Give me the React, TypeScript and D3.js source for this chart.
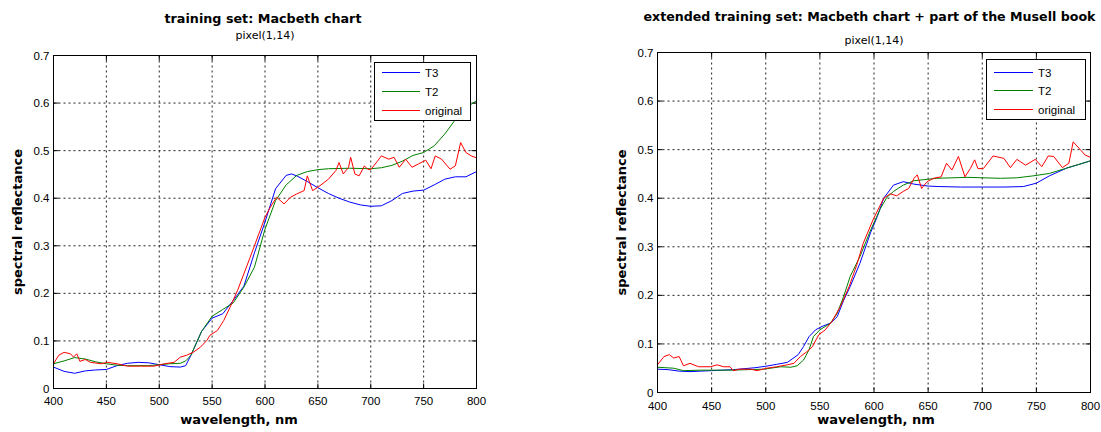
import React from "react";
import * as d3 from "d3";

// ---------- data ----------
const xTicks = [400, 450, 500, 550, 600, 650, 700, 750, 800];
const yTicks = [0, 0.1, 0.2, 0.3, 0.4, 0.5, 0.6, 0.7];
const yTickLabels = ["0", "0.1", "0.2", "0.3", "0.4", "0.5", "0.6", "0.7"];
const legendLabels = ["T3", "T2", "original"];
const seriesColors = ["#0000ff", "#008000", "#ff0000"];

// left panel: training set
const leftT3Wl = [400, 410, 420, 430, 440, 450, 460, 470, 480, 490, 500, 510, 520, 525, 530, 540, 550, 560, 570, 580, 590, 600, 610, 620, 625, 630, 640, 650, 660, 670, 680, 690, 700, 710, 720, 730, 740, 750, 760, 770, 780, 790, 800];
const leftT3Val = [0.045, 0.036, 0.032, 0.037, 0.039, 0.040, 0.048, 0.053, 0.055, 0.054, 0.050, 0.046, 0.045, 0.048, 0.07, 0.12, 0.148, 0.157, 0.185, 0.215, 0.285, 0.35, 0.42, 0.448, 0.451, 0.447, 0.435, 0.422, 0.41, 0.40, 0.392, 0.386, 0.383, 0.384, 0.395, 0.41, 0.415, 0.417, 0.428, 0.44, 0.445, 0.445, 0.456];

const leftT2Wl = [400, 410, 420, 430, 440, 450, 460, 470, 480, 490, 500, 510, 520, 525, 530, 540, 550, 560, 570, 580, 590, 600, 610, 620, 630, 640, 650, 660, 680, 700, 710, 720, 730, 740, 750, 760, 770, 780, 790, 800];
const leftT2Val = [0.052, 0.058, 0.065, 0.062, 0.056, 0.052, 0.049, 0.048, 0.048, 0.048, 0.050, 0.052, 0.053, 0.058, 0.07, 0.12, 0.152, 0.166, 0.18, 0.213, 0.255, 0.335, 0.395, 0.428, 0.448, 0.456, 0.46, 0.462, 0.463, 0.462, 0.464, 0.469, 0.478, 0.49, 0.496, 0.51, 0.535, 0.565, 0.59, 0.605];

const leftOrigWl = [400, 405, 410, 416, 419, 422, 425, 430, 435, 445, 451, 460, 470, 482, 495, 505, 514, 520, 526, 532, 539, 545, 548, 555, 561, 567, 574, 580, 586, 596, 600, 605, 611, 618, 624, 630, 637, 640, 645, 650, 660, 667, 670, 674, 679, 681, 685, 689, 694, 697, 700, 706, 710, 717, 722, 727, 733, 739, 745, 752, 757, 761, 767, 775, 780, 785, 790, 795, 800];
const leftOrigVal = [0.052, 0.07, 0.076, 0.073, 0.066, 0.073, 0.057, 0.061, 0.055, 0.052, 0.055, 0.052, 0.047, 0.047, 0.047, 0.052, 0.055, 0.066, 0.07, 0.076, 0.087, 0.101, 0.112, 0.122, 0.143, 0.171, 0.206, 0.241, 0.276, 0.336, 0.36, 0.381, 0.402, 0.388, 0.402, 0.409, 0.416, 0.447, 0.416, 0.423, 0.44, 0.458, 0.475, 0.451, 0.465, 0.486, 0.451, 0.447, 0.468, 0.461, 0.46, 0.477, 0.489, 0.482, 0.486, 0.465, 0.482, 0.465, 0.472, 0.48, 0.462, 0.489, 0.482, 0.461, 0.468, 0.517, 0.496, 0.489, 0.485];

// right panel: extended training set
const rightT3Wl = [400, 410, 420, 430, 440, 450, 460, 470, 480, 490, 500, 510, 520, 530, 535, 540, 546, 552, 560, 566, 572, 578, 587, 597, 603, 609, 618, 627, 637, 650, 660, 680, 700, 720, 738, 750, 762, 778, 790, 800];
const rightT3Val = [0.048, 0.047, 0.044, 0.043, 0.044, 0.045, 0.046, 0.047, 0.049, 0.051, 0.054, 0.058, 0.062, 0.078, 0.095, 0.115, 0.129, 0.136, 0.143, 0.156, 0.19, 0.218, 0.266, 0.33, 0.362, 0.40, 0.427, 0.434, 0.429, 0.425, 0.424, 0.423, 0.423, 0.423, 0.424, 0.431, 0.446, 0.462, 0.47, 0.477];

const rightT2Wl = [400, 415, 424, 440, 467, 498, 514, 523, 529, 535, 540, 544, 550, 560, 566, 572, 578, 587, 597, 606, 612, 618, 627, 637, 658, 686, 717, 732, 747, 762, 778, 800];
const rightT2Val = [0.052, 0.050, 0.045, 0.046, 0.046, 0.048, 0.053, 0.052, 0.055, 0.067, 0.088, 0.115, 0.129, 0.143, 0.163, 0.198, 0.239, 0.280, 0.335, 0.379, 0.402, 0.414, 0.427, 0.436, 0.441, 0.443, 0.441, 0.442, 0.446, 0.451, 0.462, 0.477];

const rightOrigWl = [400, 406, 411, 415, 420, 424, 430, 438, 449, 455, 461, 467, 470, 476, 486, 492, 501, 510, 520, 526, 532, 538, 543, 549, 555, 561, 569, 577, 584, 590, 599, 609, 615, 621, 627, 632, 637, 640, 644, 649, 655, 662, 667, 672, 678, 684, 689, 693, 696, 701, 710, 720, 726, 732, 740, 749, 755, 761, 766, 774, 780, 784, 791, 795, 800];
const rightOrigVal = [0.057, 0.074, 0.078, 0.071, 0.074, 0.055, 0.060, 0.053, 0.053, 0.057, 0.053, 0.053, 0.045, 0.048, 0.048, 0.045, 0.050, 0.053, 0.057, 0.060, 0.074, 0.084, 0.094, 0.119, 0.129, 0.146, 0.177, 0.218, 0.262, 0.307, 0.355, 0.400, 0.409, 0.405, 0.414, 0.42, 0.441, 0.448, 0.42, 0.434, 0.441, 0.444, 0.472, 0.458, 0.486, 0.444, 0.461, 0.479, 0.461, 0.461, 0.487, 0.482, 0.463, 0.480, 0.468, 0.480, 0.465, 0.487, 0.486, 0.463, 0.472, 0.516, 0.499, 0.489, 0.484];

const leftTitle = "training set: Macbeth chart";
const rightTitle = "extended training set: Macbeth chart + part of the Musell book";
const subTitle = "pixel(1,14)";
const xLabel = "wavelength, nm";
const yLabel = "spectral reflectance";

// ---------- drawing ----------
const FONT = "'Liberation Sans', Arial, Helvetica, sans-serif";
const WIDE = "'DejaVu Sans', Verdana, sans-serif";

type Series = { wl: number[]; val: number[] };

interface PanelProps {
  left: number; right: number; top: number; bottom: number;
  title: string; titleY: number; subY: number; titleX: number; titleLen: number; titleSize: number;
  series: Series[];
  legend: { x0: number; x1: number; y0: number; y1: number; rows: number[]; lx0: number; lx1: number; tx: number };
  xTickY: number; xLabelY: number; xLabelX: number; yLabelX: number;
}

function Panel(p: PanelProps) {
  const x = d3.scaleLinear().domain([400, 800]).range([p.left, p.right]);
  const y = d3.scaleLinear().domain([0, 0.7]).range([p.bottom, p.top]);
  const line = d3.line<[number, number]>().x((d) => x(d[0])).y((d) => y(d[1]));
  const cx = (p.left + p.right) / 2;
  const cy = (p.top + p.bottom) / 2;
  const tick = 5;
  return (
    <g>
      <rect x={p.left} y={p.top} width={p.right - p.left} height={p.bottom - p.top} fill="#fff" />
      {/* grid */}
      {xTicks.slice(1, -1).map((t) => (
        <line key={"gx" + t} x1={x(t)} x2={x(t)} y1={p.top} y2={p.bottom} stroke="#222" strokeWidth={1} strokeDasharray="2,3" />
      ))}
      {yTicks.slice(1, -1).map((t) => (
        <line key={"gy" + t} x1={p.left} x2={p.right} y1={y(t)} y2={y(t)} stroke="#222" strokeWidth={1} strokeDasharray="2,3" />
      ))}
      {/* ticks */}
      {xTicks.map((t) => (
        <g key={"tx" + t}>
          <line x1={x(t)} x2={x(t)} y1={p.bottom} y2={p.bottom - tick} stroke="#000" />
          <line x1={x(t)} x2={x(t)} y1={p.top} y2={p.top + tick} stroke="#000" />
        </g>
      ))}
      {yTicks.map((t) => (
        <g key={"ty" + t}>
          <line x1={p.left} x2={p.left + tick} y1={y(t)} y2={y(t)} stroke="#000" />
          <line x1={p.right} x2={p.right - tick} y1={y(t)} y2={y(t)} stroke="#000" />
        </g>
      ))}
      {/* data */}
      {p.series.map((s, i) => (
        <path
          key={"s" + i}
          d={line(s.wl.map((w, j) => [w, s.val[j]] as [number, number])) || ""}
          fill="none"
          stroke={seriesColors[i]}
          strokeWidth={1}
        />
      ))}
      {/* frame */}
      <rect x={p.left} y={p.top} width={p.right - p.left} height={p.bottom - p.top} fill="none" stroke="#000" strokeWidth={1} />
      {/* tick labels */}
      {xTicks.map((t) => (
        <text key={"lx" + t} x={x(t)} y={p.xTickY} textAnchor="middle" fontSize={11.5} fontFamily={FONT} fill="#000">{t}</text>
      ))}
      {yTicks.map((t, i) => (
        <text key={"ly" + t} x={p.left - 4} y={y(t) + 4} textAnchor="end" fontSize={11.5} fontFamily={FONT} fill="#000">{yTickLabels[i]}</text>
      ))}
      {/* titles */}
      <text x={p.titleX} y={p.titleY} textAnchor="middle" fontSize={p.titleSize} fontWeight="bold" fontFamily={WIDE} fill="#000"
        textLength={p.titleLen} lengthAdjust="spacingAndGlyphs">{p.title}</text>
      <text x={cx} y={p.subY} textAnchor="middle" fontSize={11} fontFamily={WIDE} fill="#000">{subTitle}</text>
      <text x={p.xLabelX} y={p.xLabelY} textAnchor="middle" fontSize={13} fontWeight="bold" fontFamily={WIDE} fill="#000">{xLabel}</text>
      <text transform={`translate(${p.yLabelX},${cy}) rotate(-90)`} textAnchor="middle" fontSize={13} fontWeight="bold" fontFamily={WIDE} fill="#000">{yLabel}</text>
      {/* legend */}
      <rect x={p.legend.x0} y={p.legend.y0} width={p.legend.x1 - p.legend.x0} height={p.legend.y1 - p.legend.y0} fill="#fff" stroke="#000" strokeWidth={1} />
      {legendLabels.map((lab, i) => (
        <g key={"lg" + i}>
          <line x1={p.legend.lx0} x2={p.legend.lx1} y1={p.legend.rows[i]} y2={p.legend.rows[i]} stroke={seriesColors[i]} strokeWidth={1} />
          <text x={p.legend.tx} y={p.legend.rows[i] + 4} fontSize={11.5} fontFamily={FONT} fill="#000">{lab}</text>
        </g>
      ))}
    </g>
  );
}

export default function App() {
  return (
    <svg width={1101} height={432} style={{ position: "absolute", left: 0, top: 0, background: "#fff" }}>
      <rect width={1101} height={432} fill="#fff" />
      <Panel
        left={53.5} right={476.5} top={55.5} bottom={388.5}
        title={leftTitle} titleX={263} titleY={23} subY={39} titleLen={197} titleSize={13}
        series={[{ wl: leftT3Wl, val: leftT3Val }, { wl: leftT2Wl, val: leftT2Val }, { wl: leftOrigWl, val: leftOrigVal }]}
        legend={{ x0: 374.5, x1: 470.5, y0: 62.5, y1: 120.5, rows: [72.5, 91.5, 110.5], lx0: 382, lx1: 420, tx: 425 }}
        xTickY={405} xLabelY={424} xLabelX={239} yLabelX={22}
      />
      <Panel
        left={657.5} right={1090.5} top={52.5} bottom={392.5}
        title={rightTitle} titleX={869.5} titleY={21} subY={44} titleLen={452} titleSize={12}
        series={[{ wl: rightT3Wl, val: rightT3Val }, { wl: rightT2Wl, val: rightT2Val }, { wl: rightOrigWl, val: rightOrigVal }]}
        legend={{ x0: 986.5, x1: 1085.5, y0: 59.5, y1: 119.5, rows: [72.5, 90.5, 109.5], lx0: 994, lx1: 1033, tx: 1038 }}
        xTickY={410} xLabelY={424} xLabelX={876} yLabelX={626}
      />
    </svg>
  );
}
